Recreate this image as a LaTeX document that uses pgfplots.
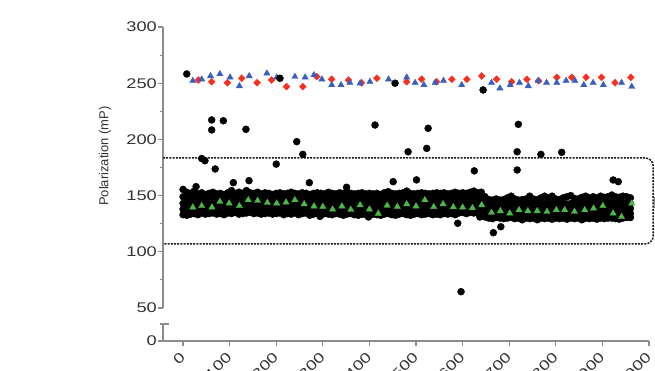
\documentclass[border=0pt]{standalone}
\usepackage{pgfplots}
\pgfplotsset{compat=1.18}
\usepackage{pgfplotstable}
\usepackage{fontspec}
\setmainfont{Liberation Sans}
\newfontfamily\tickfont{Liberation Sans}[FakeStretch=1.3]
\definecolor{axgray}{HTML}{8C8C8C}
\definecolor{txtgray}{HTML}{333333}
\definecolor{cgreen}{HTML}{4DB848}
\definecolor{cblue}{HTML}{3A5FC0}
\definecolor{cred}{HTML}{F5301F}

\pgfplotstableread{
x t a b c d
0 155.5 149 143 138 133
8 153 148 142.5 137.5 132.5
16 152 147.5 143 138 133.5
24 154 148 143.5 138.5 134
32 151.5 147 142 137.5 133
40 152.5 148 143 138 134.5
48 151 147.5 142.5 138.5 133.5
56 152 147 143 138 134
64 153 148 143.5 139 134.5
72 151.5 147.5 142.5 138 133.5
80 152 148 143 138.5 134
88 151 147 142.5 137.5 133
96 152.5 148 143 138 134.5
104 154.5 148.5 143.5 139 134
112 152 147.5 143 138.5 135
120 153 148 142.5 138 133.5
128 152 147.5 143 138.5 134
136 154.5 148 143.5 139 134.5
144 152.5 148.5 143 138 135
152 152 147.5 142.5 138.5 134
160 153 148 143 139 134.5
168 151.5 147.5 143.5 138 133.5
176 152.5 148 143 138.5 134
184 152 147.5 142.5 138 134.5
192 151 147 143 138.5 133.5
200 152 148 142.5 138 134
208 152.5 147.5 143 138.5 134.5
216 151.5 147 142.5 137.5 133
224 152 148 143 138 134
232 153 147.5 142.5 138.5 133.5
240 152 148 143 138 134.5
248 151.5 147.5 142.5 138.5 133
256 152.5 148 143 138 134
264 152 147.5 143.5 138.5 134.5
272 151 147 142.5 138 132.5
280 152 148 143 138.5 133.5
288 152.5 147.5 142.5 138 134
296 152 148 143 137.5 133
304 151.5 147.5 142.5 138 134
312 153 148 143 138.5 133.5
320 152 147.5 142.5 138 133
328 151.5 147 143 138.5 134
336 152.5 148 142.5 138 133.5
344 152 147.5 143 137.5 132.5
352 153 148 142.5 138 133.5
360 152 147.5 143 138.5 134
368 151.5 147 142.5 138 133
376 152 148 143 137.5 132.5
384 152.5 147.5 142.5 138 133.5
392 151.5 147 142 137.5 133
400 152 147.5 143 138 132.5
408 151.5 148 142.5 138.5 133.5
416 152 147.5 143 138 133
424 151 147 142.5 137.5 132.5
432 152.5 148 143 138 133.5
440 153.5 147.5 142.5 138.5 134
448 152 148 143 138 133
456 151.5 147.5 142.5 137.5 132.5
464 152 148 143 138 133.5
472 152.5 147.5 142.5 138.5 134
480 154 148 143 138 133
488 152 147.5 142.5 137.5 132.5
496 151.5 147 143 138 133.5
504 152 148 142.5 138.5 134
512 152.5 147.5 143 138 133
520 152 148 142.5 137.5 133.5
528 151.5 147.5 143 138 134
536 152 148 142.5 138.5 133
544 152.5 147.5 143 138 133.5
552 152 148 142.5 137.5 133
560 152.5 147.5 143 138 134
568 151.5 147 142.5 138.5 133.5
576 152 148 143 138 134
584 153 147.5 142.5 137.5 133
592 152 148 143 138 134.5
600 152.5 147.5 142.5 138.5 135
608 152 148 143 138 134
616 153 148.5 143.5 139 135
624 154 148 143 138.5 134.5
632 152.5 148.5 143.5 139 135
640 153 148 143 138.5 134
648 149 144 139.5 135 131
656 146.5 142.5 138 134 130
664 146 142 137.5 133.5 129.5
672 147 142.5 138 134 130.5
680 146 141.5 137.5 133.5 130
688 146.5 142 138 134 129.5
696 148 142.5 137.5 133.5 130
704 149.5 143 138 134 130.5
712 147 142 137.5 133.5 129.5
720 146 142.5 138 134 130
728 146.5 142 137.5 133.5 128.5
736 147 142.5 138 134 130
744 149.5 143 138.5 133.5 129.5
752 147 142 137.5 134 130
760 146.5 142.5 138 133.5 128.5
768 148 142 137.5 134 130
776 149.5 143 138 133.5 129.5
784 148 142.5 138.5 134 130
792 149.5 143 138 133.5 129
800 147 142 137.5 134 130
808 146.5 142.5 138 133.5 129.5
816 148 143 138.5 134 130
824 149 142.5 138 133.5 129
832 150 143 138.5 134 130
840 147.5 142.5 138 133.5 129.5
848 147 142 137.5 134 130
856 148.5 143 138 133.5 128.5
864 149.5 143.5 138.5 134 130
872 148 142.5 138 133.5 129.5
880 149 143 138.5 134 130
888 148 142.5 138 133.5 129
896 149.5 143.5 138.5 134 130
904 148.5 143 138 133.5 129.5
912 149 143.5 138.5 134 130
920 150.5 144 139 134.5 130
928 149 143.5 138.5 134 129.5
936 148.5 143 138 133.5 129
944 149.5 143.5 138.5 134 130
952 149 143 138.5 134 130.5
960 148 143 138.5 134 130.5
}\band

\pgfplotsset{
  /pgf/number format/assume math mode=true,
  /pgf/number format/1000 sep={},
}

\begin{document}
\begin{tikzpicture}[x=1bp,y=1bp]
\useasboundingbox (0,0) rectangle (655,370);
\begin{axis}[
  at={(163bp,62bp)}, anchor=south west,
  scale only axis, width=486bp, height=281bp,
  xmin=-43, xmax=1000, ymin=50, ymax=300,
  axis y line=left, axis x line=none,
  axis line style={axgray, line width=1.2bp, -},
  xtick=\empty,
  ytick={50,100,...,300}, minor ytick={75,125,...,275},
  tick align=outside, major tick length=5bp, minor tick length=3bp,
  tick style={axgray, line width=1.1bp},
  yticklabel style={font=\tickfont\fontsize{14bp}{14bp}\selectfont, text=txtgray, inner sep=1bp},
  clip=false,
]
\draw[black!90, line width=1.5bp, dash pattern=on 2bp off 1.2bp, rounded corners=8bp]
  (axis cs:-43,183.5) -- (axis cs:1009,183.5) -- (axis cs:1009,107) -- (axis cs:-43,107);
\addplot[only marks, mark=diamond*, mark size=3.5bp, mark options={xscale=1.3, fill=cred, draw=cred}] coordinates {
(33,252.8) (61.5,251.3) (95,250.4) (126,254.4) (159,250.4) (190,252.8) (222,247) (257,247) (287,255.8)
(319,253.5) (355,252.8) (383,250.4) (416,254.4) (480,251.3) (512,253.5) (544,251.3) (577,253.5) (609,253.5)
(641,256.4) (673,253.5) (705,251.3) (738,253.5) (763,252.2) (802,255.2) (834,255.2) (865,255.2) (898,255.2) (927,250.4) (961,255.2)
};
\addplot[only marks, mark=triangle*, mark size=3.6bp, mark options={fill=cblue, draw=cblue}] coordinates {
(21,252.2) (40,253.5) (59,256.4) (79,258.2) (101,255.2) (121,247.5) (142,256.4) (180,258.8) (201,255.2) (240,255.8) (262,255.2) (281,257.3)
(298,253.5) (319,248.4) (339,248.4) (358,250.4) (380,249.9) (401,251.3) (441,253.5) (480,255.2) (498,250.4) (517,248.4) (541,250.4) (559,252.2) (598,248.4)
(662,250.4) (680,245.5) (702,248.4) (722,250.4) (741,247.5) (762,252.2) (780,250.4) (802,250.4) (822,252.2) (841,252.2) (860,248.4) (880,250.4) (902,248.4) (941,250.4) (963,246.9)
};
\foreach \c in {t,a,b,c,d}{
  \addplot[only marks, mark=*, mark size=3.5bp, mark options={fill=black, draw=black}] table[x=x, y=\c] {\band};
}
\addplot[only marks, mark=*, mark size=3.5bp, mark options={fill=black, draw=black}] coordinates {
(8,258.2) (208,254.4) (455,250) (644,244)
(61.5,217.3) (86.5,216.6) (61.5,208.4) (135,209) (244,198) (40,183) (47,181) (69,173.7) (257,186.7) (200,178) (271,161.5) (28,158) (108,161.5) (141.6,163.3)
(412,212.8) (483,189) (526,209.9) (523,192) (625,172) (451,162.4) (501,164) (351,157.4) (589.5,125.4) (637,131) (398,131) (294,131.5)
(719.6,213.4) (717,189) (717,172.8) (768,186.7) (812.6,188.5) (923,163.9) (934,162.4) (666,117) (682,122.3) (596.6,64.5)
};
\addplot[only marks, mark=triangle*, mark size=3.6bp, mark options={fill=cgreen, draw=cgreen}] coordinates {
(21,139.6) (40,140.8) (62,139.6) (79,144.6) (99,143.1) (121,140.8) (140,146.1) (160,145.5) (181,143.7) (201,143.1) (221,144) (240,146.1) (260,142.5) (281,140.5)
(300,140.1) (321,137.8) (341,140.5) (360,137.5) (380,141.6) (400,137.8) (419,134) (438,141.2) (460,140.1) (480,142.4) (500,140.5) (519,146.1) (538,140) (558,142.5) (580,139.8) (600,139.6) (621,139) (641,141.6)
(662,134.8) (681,136.3) (701,134.2) (721,137.2) (740,136.3) (760,136.3) (781,135.7) (801,137.2) (819,137.2) (840,135.7) (862,137.2) (881,138.7) (901,140.8) (923,134.2) (941,131.2) (963,143.1)
};
\end{axis}
\begin{axis}[
  at={(163bp,29bp)}, anchor=south west,
  scale only axis, width=486bp, height=17bp,
  xmin=-43, xmax=1000, ymin=0, ymax=15,
  axis y line=left, axis x line=bottom,
  axis line style={axgray, line width=1.2bp, -},
  xtick={0,100,...,1000}, ytick={0},
  tick align=outside, major tick length=5bp,
  tick style={axgray, line width=1.1bp},
  yticklabel style={font=\tickfont\fontsize{14bp}{14bp}\selectfont, text=txtgray, inner sep=1bp},
  xticklabel style={xshift=-4bp, yshift=-4bp, rotate=45, anchor=north east, font=\tickfont\fontsize{14bp}{14bp}\selectfont, text=txtgray, inner sep=1bp},
  clip=false,
]
\draw[axgray, line width=1.2bp] ([xshift=-3bp]axis cs:-43,15) -- ([xshift=6bp]axis cs:-43,15);
\end{axis}
\node[rotate=90, font=\fontsize{13bp}{13bp}\selectfont, text=txtgray] at (105,214) {Polarization (mP)};
\draw[axgray, line width=1bp] (657,173) -- (654,173) -- (654,163) -- (657,163);
\end{tikzpicture}
\end{document}
